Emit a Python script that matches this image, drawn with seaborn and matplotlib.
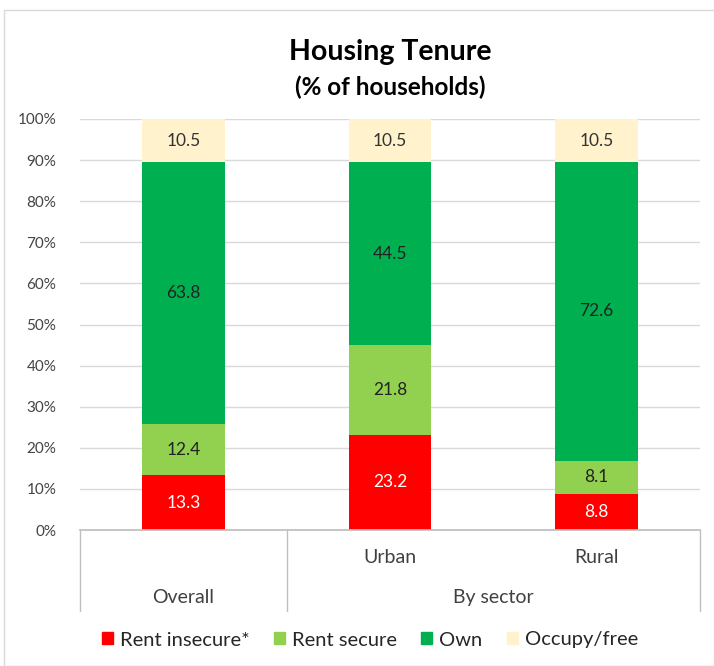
import matplotlib.pyplot as plt
import matplotlib.patches as mpatches
import seaborn as sns
import pandas as pd
import numpy as np

sns.set_theme(style="white")
plt.rcParams['font.family'] = ['Lato', 'DejaVu Sans']

categories = ["Overall", "Urban", "Rural"]
series = ["Rent insecure*", "Rent secure", "Own", "Occupy/free"]
rent_insecure = [13.3, 23.2, 8.8]
rent_secure = [12.4, 21.8, 8.1]
own = [63.8, 44.5, 72.6]
occupy_free = [10.5, 10.5, 10.5]
colors = ["#FF0000", "#92D050", "#00B050", "#FFF2CC"]
label_colors = ["white", "#222222", "#222222", "#333333"]

df = pd.DataFrame({"category": categories,
                   series[0]: rent_insecure, series[1]: rent_secure,
                   series[2]: own, series[3]: occupy_free})

fig = plt.figure(figsize=(7.14, 6.66), dpi=100)
ax = fig.add_axes([80 / 714, 1 - 530 / 666, 620 / 714, 411 / 666])

# stacked bars: draw cumulative totals from top segment down
vals = df[series].to_numpy()
cum = np.cumsum(vals, axis=1)
for i in range(len(series) - 1, -1, -1):
    sns.barplot(x=df["category"], y=cum[:, i], color=colors[i], width=0.4,
                saturation=1, linewidth=0, ax=ax, zorder=2)

for j in range(len(categories)):
    for i in range(len(series)):
        mid = cum[j, i] - vals[j, i] / 2
        ax.text(j, mid, f"{vals[j, i]:.1f}", ha="center", va="center",
                fontsize=12.5, color=label_colors[i], zorder=3)

ax.set_ylim(0, 100)
ax.set_xlim(-0.5, 2.5)
ax.set_yticks(range(0, 101, 10))
ax.set_yticklabels([f"{v}%" for v in range(0, 101, 10)], fontsize=11, color="#444444")
ax.yaxis.grid(True, color="#D9D9D9", linewidth=1, zorder=0)
ax.set_axisbelow(True)
ax.tick_params(axis="y", length=0, pad=17)
ax.set_xticks([])
ax.set_xlabel("")
ax.set_ylabel("")
for s in ["top", "right", "left"]:
    ax.spines[s].set_visible(False)
ax.spines["bottom"].set_color("#BFBFBF")

# multi-level category axis
tr = ax.get_xaxis_transform()
cat_style = dict(transform=tr, ha="center", va="center", fontsize=14, color="#404040")
ax.text(1, -0.066, "Urban", **cat_style)
ax.text(2, -0.066, "Rural", **cat_style)
ax.text(0, -0.165, "Overall", **cat_style)
ax.text(1.5, -0.165, "By sector", **cat_style)
for xv in [-0.5, 0.5, 2.5]:
    ax.plot([xv, xv], [0, -0.197], transform=tr, color="#BFBFBF", linewidth=1, clip_on=False)

fig.text(390 / 714, 1 - 52 / 666, "Housing Tenure", ha="center", va="center",
         fontsize=20.5, fontweight="bold", color="black")
fig.text(390 / 714, 1 - 87 / 666, "(% of households)", ha="center", va="center",
         fontsize=17.5, fontweight="bold", color="black")

handles = [mpatches.Patch(color=c, label=s) for c, s in zip(colors, series)]
fig.legend(handles=handles, loc="center", bbox_to_anchor=(370 / 714, 1 - 640 / 666),
           ncol=4, frameon=False, fontsize=14.5, handlelength=0.55, handleheight=0.55,
           handletextpad=0.35, columnspacing=1.2)

fig.patches.append(mpatches.Rectangle((4 / 714, 0), 720 / 714, 1 - 10 / 666,
                                      transform=fig.transFigure, fill=False,
                                      edgecolor="#D9D9D9", linewidth=1))

fig.savefig("out.png", dpi=100)
